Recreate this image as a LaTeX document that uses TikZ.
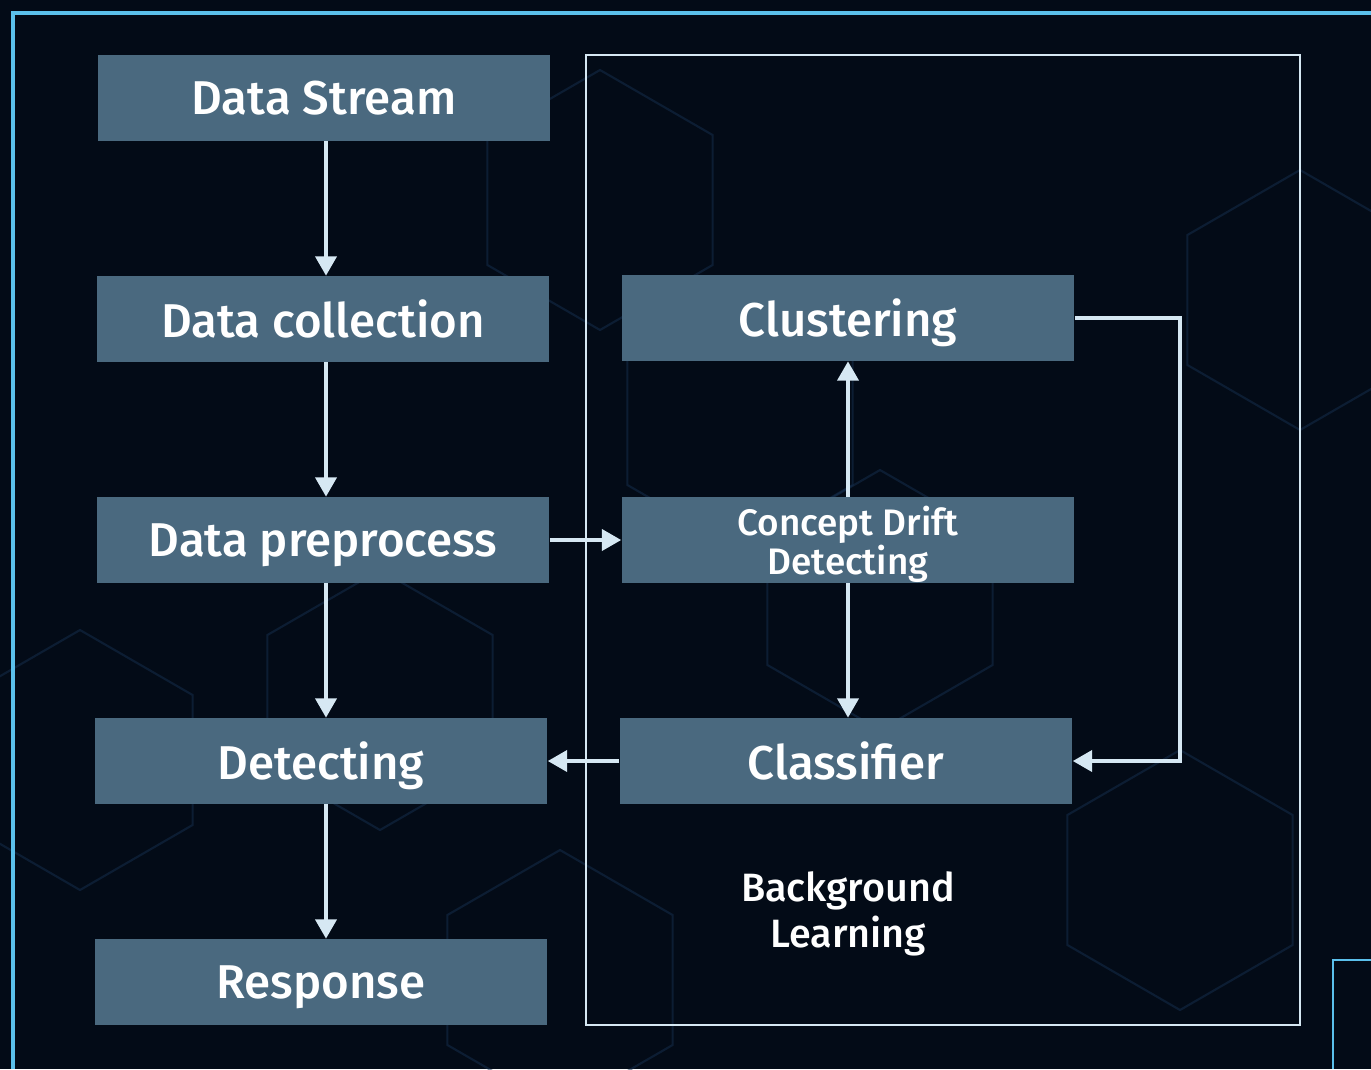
\documentclass[tikz,border=0pt]{standalone}
\usepackage{fontspec}
\setmainfont{Fira Sans}[UprightFont={* Medium}]
\usetikzlibrary{arrows.meta,positioning}
\definecolor{bgnavy}{HTML}{030B17}
\definecolor{boxblue}{HTML}{4A697F}
\definecolor{arrowwhite}{HTML}{D6E8F3}
\definecolor{framecyan}{HTML}{5BC0EB}
\definecolor{hexline}{HTML}{16304F}

\begin{document}
\begin{tikzpicture}[x=0.02cm, y=-0.02cm,
  box/.style={fill=boxblue, minimum width=9.06cm, minimum height=1.72cm, inner sep=0pt, text=white, text depth=0pt, font=\fontsize{27}{30}\selectfont, align=center},
  flow/.style={draw=arrowwhite, line width=2.1pt, -{Triangle[width=12pt, length=11pt]}},
  hex/.style={draw=hexline, line width=1.2pt, opacity=0.5}
]
  \useasboundingbox (0,0) rectangle (1371,1069);
  \fill[bgnavy] (0,0) rectangle (1371,1069);

  % faint hexagons in the background
  \foreach \cx/\cy in {600/200, 740/420, 880/600, 80/760, 380/700, 560/980, 1300/300, 1180/880}
    \draw[hex] (\cx,\cy) +(30:130) -- +(90:130) -- +(150:130) -- +(210:130) -- +(270:130) -- +(330:130) -- cycle;

  % slide frame
  \draw[framecyan, line width=2.4pt] (13,1069) -- (13,13) -- (1371,13);
  \draw[framecyan, line width=1.6pt] (1333,1069) -- (1333,960) -- (1371,960);

  % background learning frame
  \draw[arrowwhite, line width=1.2pt] (586,55) rectangle (1300,1025);
  \node[text=white, font=\fontsize{22.5}{26}\selectfont, align=center] (bglabel) at (848,914) {Background\\Learning};

  % left column
  \node[box] (stream) at (324,98) {Data Stream};
  \node[box] (collect) at (323,319) {Data collection};
  \node[box] (prep) at (323,540) {Data preprocess};
  \node[box] (detect) at (321,761) {Detecting};
  \node[box] (resp) at (321,982) {Response};

  % right column
  \node[box] (cluster) at (848,318) {Clustering};
  \node[box, font=\fontsize{21}{18}\selectfont] (drift) at (848,540) {Concept Drift\\Detecting};
  \node[box] (classif) at (846,761) {Classifier};

  \draw[flow] (stream.south -| 326,0) -- (collect.north -| 326,0);
  \draw[flow] (collect.south -| 326,0) -- (prep.north -| 326,0);
  \draw[flow] (prep.south -| 326,0) -- (detect.north -| 326,0);
  \draw[flow] (detect.south -| 326,0) -- (resp.north -| 326,0);
  \draw[flow] (prep.east) -- (prep.east -| drift.west);
  \draw[flow] (drift.north) -- (cluster.south);
  \draw[flow] (drift.south) -- (classif.north -| drift.south);
  \draw[flow] (classif.west) -- (detect.east);
  \draw[flow] (cluster.east) -- (1180,318) |- (classif.east);
\end{tikzpicture}
\end{document}
